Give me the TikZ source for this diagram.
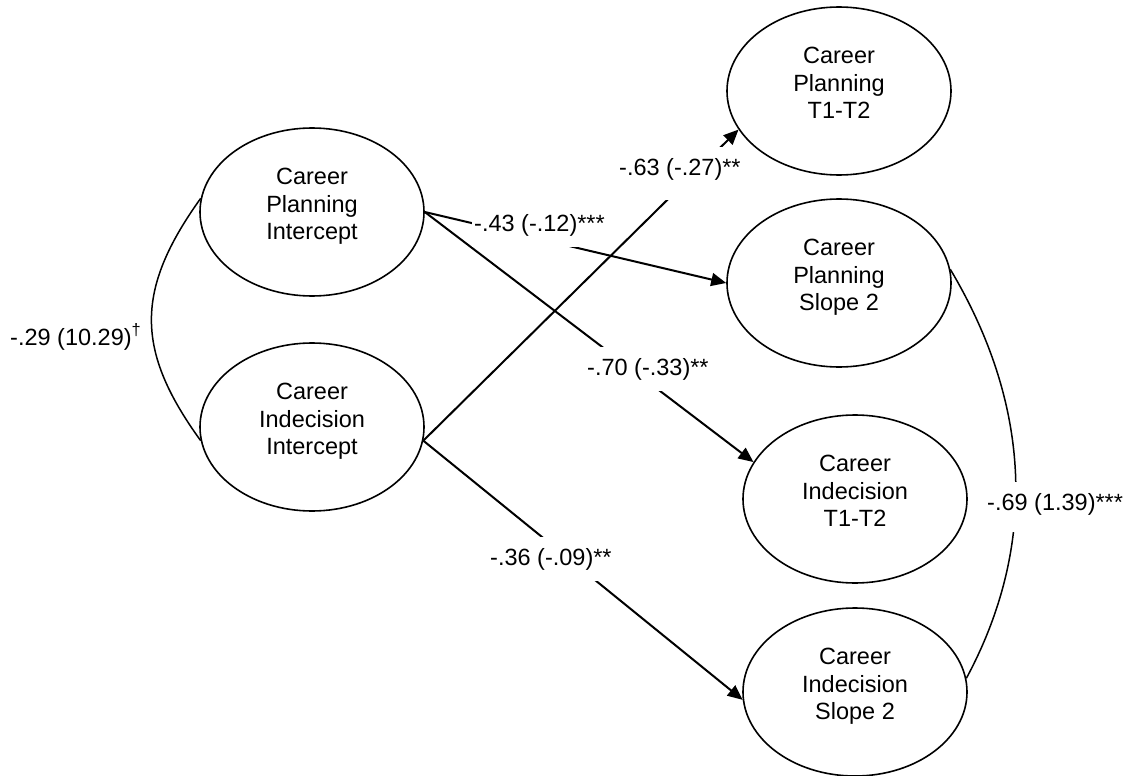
\documentclass[tikz,border=0pt]{standalone}
\usepackage{fontspec}
\setmainfont{Liberation Sans}
\usetikzlibrary{shapes.geometric,arrows.meta}

\begin{document}
\begin{tikzpicture}[x=1pt,y=-1pt,
  latent/.style={ellipse,draw,line width=1.6pt,minimum width=224pt,minimum height=168pt,inner sep=0pt},
  vartext/.style={align=center,font=\fontsize{23.5}{27.5}\selectfont,inner sep=0pt},
  regpath/.style={draw,line width=2pt,-{Triangle[length=15pt,width=13pt]}},
  cov/.style={draw,line width=1.5pt},
  coef/.style={fill=white,inner xsep=2pt,inner ysep=11pt,anchor=base west,
    font=\fontsize{23.5}{27.5}\selectfont},
]
\useasboundingbox (0,0) rectangle (1128,776);

% latent growth factors
\node[latent] (pi) at (312,212) {};
\node[latent] (ci) at (312,427) {};
\node[latent] (pt) at (839,91)  {};
\node[latent] (ps) at (839,283) {};
\node[latent] (it) at (855,499) {};
\node[latent] (is) at (855,692) {};

\node[vartext] (pitx) at ([yshift=5.5pt]pi.center) {\strut Career\\Planning\\Intercept\strut};
\node[vartext] (citx) at ([yshift=5.5pt]ci.center) {\strut Career\\Indecision\\Intercept\strut};
\node[vartext] (pttx) at ([yshift=5.5pt]pt.center) {\strut Career\\Planning\\T1-T2\strut};
\node[vartext] (pstx) at ([yshift=5.5pt]ps.center) {\strut Career\\Planning\\Slope 2\strut};
\node[vartext] (ittx) at ([yshift=5.5pt]it.center) {\strut Career\\Indecision\\T1-T2\strut};
\node[vartext] (istx) at ([yshift=5.5pt]is.center) {\strut Career\\Indecision\\Slope 2\strut};

% covariances
\draw[cov] (pi.173) .. controls (135,290) and (135,350) .. (ci.187);
\draw[cov] (ps.7) .. controls (1040,420) and (1030,560) .. (is.7);

% regression paths
\draw[regpath] (pi.east) -- (ps.west);
\draw[regpath] (pi.east) -- (it.160.6);
\draw[regpath] (ci.-7) -- (pt.201.5);
\draw[regpath] (ci.-7) -- (is.184);

% coefficients
\node[coef,text depth=14pt] (c63) at (617,175) {-.63 (-.27)**};
\node[coef] (c43) at (472,231) {-.43 (-.12)***};
\node[coef] (c70) at (585,375) {-.70 (-.33)**};
\node[coef] (c36) at (488,565) {-.36 (-.09)**};
\node[coef,text depth=11pt] (c69) at (985,510) {-.69 (1.39)***};
\node[coef] (c29) at (8,345) {-.29 (10.29)\textsuperscript{†}};
\end{tikzpicture}
\end{document}
